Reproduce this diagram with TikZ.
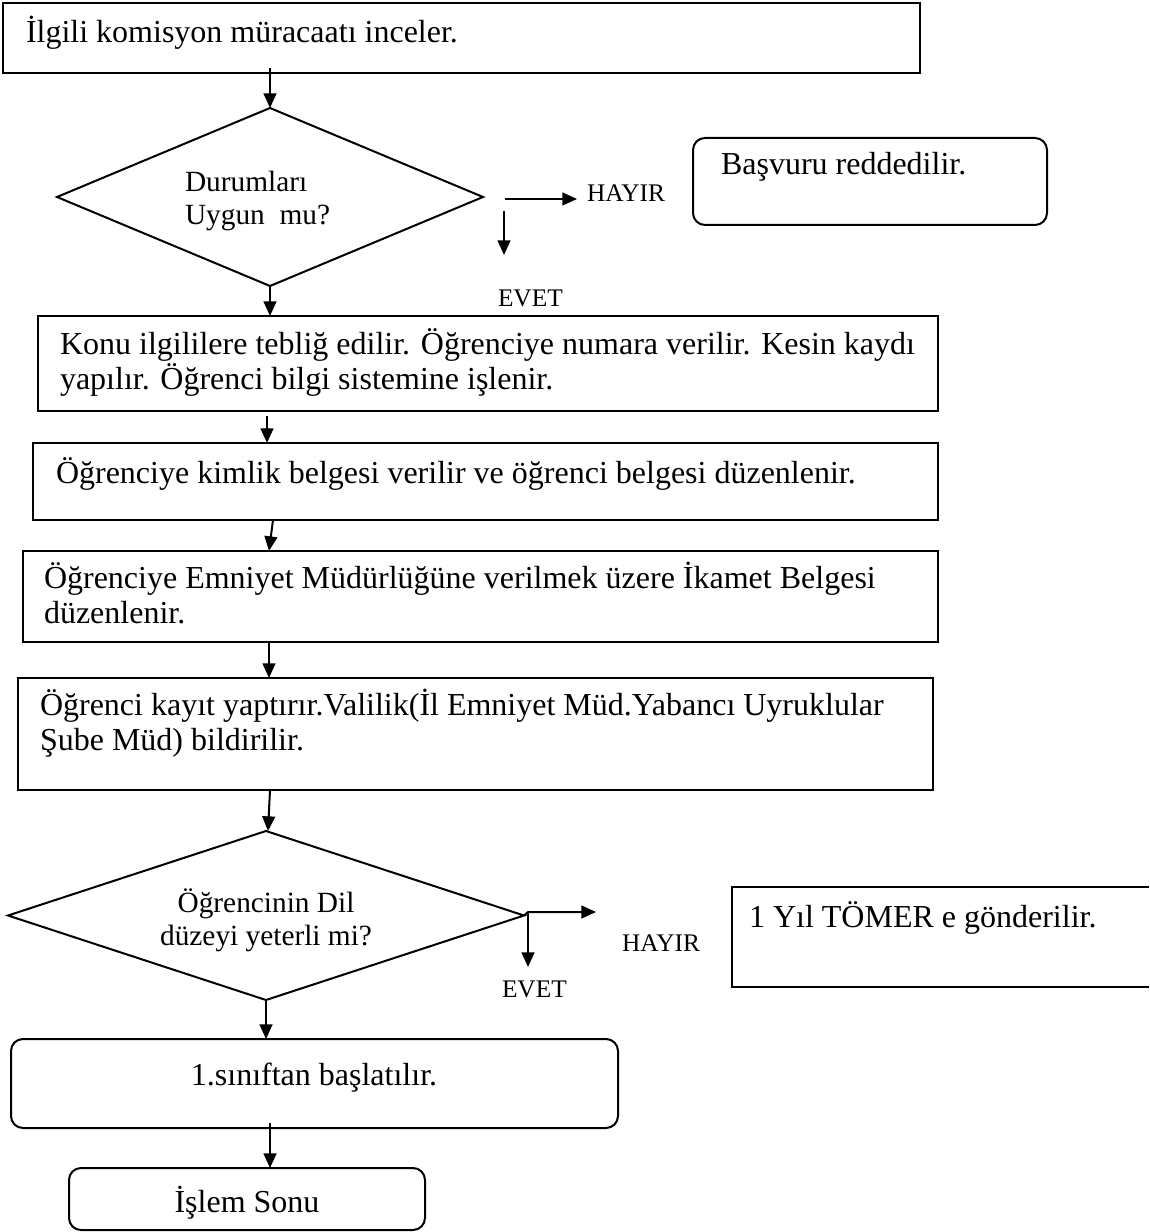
\documentclass[tikz,border=0pt]{standalone}
\usepackage{fontspec}
\setmainfont{Liberation Serif}
\usetikzlibrary{arrows.meta,shapes.geometric,calc}
\begin{document}
\begin{tikzpicture}[x=0.375pt,y=-0.375pt,line width=0.75pt,
  wh/.style 2 args={minimum width=#1*0.375pt,minimum height=#2*0.375pt},
  box/.style={draw,rectangle,inner sep=0pt,outer sep=0pt,anchor=north west},
  rbox/.style={box,rounded corners=4.5pt},
  decision/.style={draw,diamond,inner sep=0pt,outer sep=0pt},
  body/.style={font=\fontsize{12}{14}\selectfont,inner sep=0pt,anchor=base west},
  ctr/.style={font=\fontsize{12}{14}\selectfont,inner sep=0pt,anchor=base},
  qtext/.style={font=\fontsize{11}{13}\selectfont,inner sep=0pt},
  lab/.style={font=\fontsize{9.5}{11}\selectfont,inner sep=0pt,anchor=base west},
  flow/.style={-{Triangle[length=5.5pt,width=4.8pt]}}]
\useasboundingbox (0,0) rectangle (1149,1232);

% step boxes
\node[box,wh={917}{70}] (b1) at (3,3) {};
\node[body] (t1) at (25,43) {İlgili komisyon müracaatı inceler.};

\node[decision,wh={426}{178}] (d1) at (270,197) {};
\node[qtext,anchor=base west] (q1a) at (184,192) {Durumları};
\node[qtext,anchor=base west] (q1b) at (184,225) {Uygun~~mu?};

\node[rbox,wh={354}{87}] (rej) at (693,138) {};
\node[body] (trej) at (720,175) {Başvuru reddedilir.};

\node[box,wh={900}{95}] (b3) at (38,316) {};
\node[body] (t3a) at (59,355) {Konu ilgililere tebliğ edilir. Öğrenciye numara verilir. Kesin kaydı};
\node[body] (t3b) at (59,390) {yapılır. Öğrenci bilgi sistemine işlenir.};

\node[box,wh={905}{77}] (b4) at (33,443) {};
\node[body] (t4) at (55,483) {Öğrenciye kimlik belgesi verilir ve öğrenci belgesi düzenlenir.};

\node[box,wh={915}{91}] (b5) at (23,551) {};
\node[body] (t5a) at (43,588) {Öğrenciye Emniyet Müdürlüğüne verilmek üzere İkamet Belgesi};
\node[body] (t5b) at (43,623) {düzenlenir.};

\node[box,wh={915}{112}] (b6) at (18,678) {};
\node[body] (t6a) at (39,715) {Öğrenci kayıt yaptırır.Valilik(İl Emniyet Müd.Yabancı Uyruklular};
\node[body] (t6b) at (39,750) {Şube Müd) bildirilir.};

\node[decision,wh={516}{169}] (d2) at (266,915.5) {};
\node[qtext,anchor=base] (q2a) at (266,912) {Öğrencinin Dil};
\node[qtext,anchor=base] (q2b) at (266,945) {düzeyi yeterli mi?};

% open box on the right edge
\coordinate (tm1) at (1149,887);
\coordinate (tm2) at (732,887);
\coordinate (tm3) at (732,987);
\coordinate (tm4) at (1149,987);
\draw (tm1) -- (tm2) -- (tm3) -- (tm4);
\node[body] (ttm) at (748,927) {1 Yıl TÖMER e gönderilir.};

\node[rbox,wh={607}{89}] (b7) at (11,1039) {};
\node[ctr] (t7) at (314,1085) {1.sınıftan başlatılır.};

\node[rbox,wh={356}{62}] (b8) at (69,1168) {};
\node[ctr] (t8) at (247,1212) {İşlem Sonu};

% branch labels
\node[lab] (no1) at (586,202) {HAYIR};
\node[lab] (yes1) at (497,307) {EVET};
\node[lab] (no2) at (621,951) {HAYIR};
\node[lab] (yes2) at (501,997) {EVET};

% branch arrows
\coordinate (a1s) at (505,199);
\coordinate (a1e) at (577,199);
\coordinate (a2s) at (504,211);
\coordinate (a2e) at (504,255);
\draw[flow] (a1s) -- (a1e);
\draw[flow] (a2s) -- (a2e);

\coordinate (c2) at (528,912);
\coordinate (c2r) at (596,912);
\coordinate (c2d) at (528,967);
\draw[flow] (d2.east) -- (c2) -- (c2r);
\draw[flow] (c2) -- (c2d);

% main flow
\draw[flow] ($(b1.south -| d1.north)+(0,-5)$) -- (d1.north);
\draw[flow] (d1.south) -- (d1.south |- b3.north);
\draw[flow] ($(b3.south -| d1.south)+(-3,5)$) -- ($(b4.north -| d1.south)+(-3,0)$);
\draw[flow] ($(b4.south -| d1.south)+(3,0)$) -- ($(b5.north -| d1.south)+(-1,0)$);
\draw[flow] ($(b5.south -| d1.south)+(-1,0)$) -- ($(b6.north -| d1.south)+(-1,0)$);
\draw[flow] (b6.south -| d1.south) -- ($(d2.north)+(2,0)$);
\draw[flow] (d2.south) -- (d2.south |- b7.north);
\draw[flow] ($(b7.south -| d1.south)+(0,-5)$) -- (b8.north -| d1.south);
\end{tikzpicture}
\end{document}
